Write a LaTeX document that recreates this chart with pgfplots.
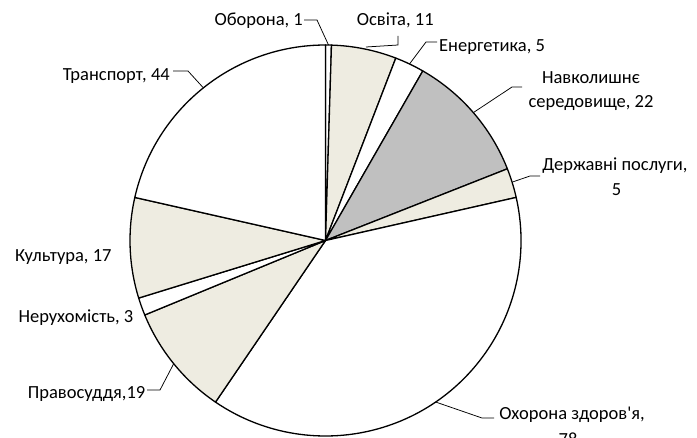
\documentclass[border=0pt]{standalone}
\usepackage{pgfplots}
\usepackage{pgfplotstable}
\pgfplotsset{compat=1.18}
\usepackage{fontspec}
\setmainfont{Carlito}
\definecolor{beige}{HTML}{EEECE1}
\definecolor{greyslice}{HTML}{C0C0C0}

% slices clockwise from the top
\pgfplotstableread{
value colour
1  white
11 beige
5  white
22 greyslice
5  beige
78 white
19 beige
3  white
17 beige
44 white
}\piedata

\begin{document}
\begin{tikzpicture}
\fontsize{18.5bp}{23.5bp}\selectfont
% cumulative angles from the table
\gdef\piecum{0}
\foreach \i in {0,...,9}{
  \pgfplotstablegetelem{\i}{value}\of\piedata
  \pgfmathsetmacro\tmp{\piecum+\pgfplotsretval}
  \xdef\piecum{\tmp}
}
\gdef\run{0}
\foreach \i in {0,...,9}{
  \pgfplotstablegetelem{\i}{value}\of\piedata
  \pgfmathsetmacro\sa{90-360*(\run/\piecum)}
  \pgfmathsetmacro\b{\run+\pgfplotsretval}
  \pgfmathsetmacro\sb{90-360*(\b/\piecum)}
  \expandafter\xdef\csname pieS\i\endcsname{\sa}
  \expandafter\xdef\csname pieE\i\endcsname{\sb}
  \pgfplotstablegetelem{\i}{colour}\of\piedata
  \expandafter\xdef\csname pieC\i\endcsname{\pgfplotsretval}
  \xdef\run{\b}
}
\useasboundingbox (0,0) rectangle (697bp,438bp);
\begin{axis}[
  at={(0,0)}, anchor=south west,
  width=697bp, height=438bp, scale only axis,
  hide axis, clip=false,
  xmin=0, xmax=697, ymin=0, ymax=438, y dir=reverse,
]
\pgfplotsinvokeforeach{0,...,9}{
  \filldraw[fill=\csname pieC#1\endcsname, draw=black, line width=1.3bp, line join=round]
    (axis cs:325.5,240.5) -- ++(\csname pieS#1\endcsname:195.5bp)
    arc[start angle=\csname pieS#1\endcsname, end angle=\csname pieE#1\endcsname, radius=195.5bp] -- cycle;
}
% leader lines
\draw[line width=0.75bp] (axis cs:304,20) -- (axis cs:317,20) -- (axis cs:328.5,45);
\draw[line width=0.75bp] (axis cs:398,36) -- (axis cs:398,45) -- (axis cs:366,47);
\draw[line width=0.75bp] (axis cs:437,42) -- (axis cs:426,42) -- (axis cs:409.5,64);
\draw[line width=0.75bp] (axis cs:522,87) -- (axis cs:512,87) -- (axis cs:473.5,112.5);
\draw[line width=0.75bp] (axis cs:540,176) -- (axis cs:530,176) -- (axis cs:512.5,182);
\draw[line width=0.75bp] (axis cs:494,418) -- (axis cs:482,418) -- (axis cs:435.6,402);
\draw[line width=0.75bp] (axis cs:147,390) -- (axis cs:160,390) -- (axis cs:173.7,363.7);
\draw[line width=0.75bp] (axis cs:173,71) -- (axis cs:188,71) -- (axis cs:203.5,88);
% labels
\node[anchor=base east, inner sep=0] at (axis cs:303,26) {Оборона, 1};
\node[anchor=base west, inner sep=0] at (axis cs:356.7,26) {Освіта, 11};
\node[anchor=base west, inner sep=0] at (axis cs:439,51.5) {Енергетика, 5};
\node[anchor=base, inner sep=0] at (axis cs:591,83.3) {Навколишнє};
\node[anchor=base, inner sep=0] at (axis cs:591,107.3) {середовище, 22};
\node[anchor=base, inner sep=0] at (axis cs:615,170) {Державні послуги,};
\node[anchor=base, inner sep=0] at (axis cs:616.5,195) {5};
\node[anchor=base, inner sep=0] at (axis cs:572,419) {Охорона здоров\textquotesingle я,};
\node[anchor=base, inner sep=0] at (axis cs:568,445) {78};
\node[anchor=base east, inner sep=0] at (axis cs:145.5,398) {Правосуддя,19};
\node[anchor=base east, inner sep=0] at (axis cs:133.5,322.5) {Нерухомість, 3};
\node[anchor=base east, inner sep=0] at (axis cs:111.7,261.7) {Культура, 17};
\node[anchor=base east, inner sep=0] at (axis cs:170,80) {Транспорт, 44};
\end{axis}
\end{tikzpicture}
\end{document}
